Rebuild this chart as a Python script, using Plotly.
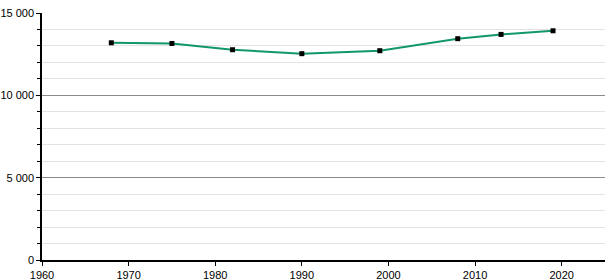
import plotly.graph_objects as go

years = [1968, 1975, 1982, 1990, 1999, 2008, 2013, 2019]
population = [13190, 13150, 12770, 12530, 12710, 13440, 13700, 13920]

fig = go.Figure()
fig.add_trace(go.Scatter(
    x=years, y=population, mode="lines+markers",
    line=dict(color="#12966b", width=2),
    marker=dict(symbol="square", size=5, color="black"),
    hoverinfo="skip",
))

fig.update_layout(
    width=615, height=280,
    margin=dict(l=42, r=10, t=13, b=20, autoexpand=False),
    paper_bgcolor="white", plot_bgcolor="white",
    showlegend=False,
    separators=", ",
    font=dict(family="Liberation Sans, Arial, sans-serif", size=11, color="black"),
)
fig.update_xaxes(
    range=[1960, 2025], dtick=10, tick0=1960,
    showgrid=False, zeroline=False, automargin=False,
    showline=True, linecolor="black", linewidth=1.5,
    ticks="outside", ticklen=4, tickcolor="black",
)
fig.update_yaxes(
    range=[0, 15000], dtick=5000, tickformat=",d", automargin=False,
    showgrid=True, gridcolor="#8a8a8a", gridwidth=1,
    zeroline=False,
    showline=True, linecolor="black", linewidth=1.5,
    ticks="outside", ticklen=4, tickcolor="black",
    minor=dict(dtick=1000, showgrid=True, gridcolor="#e3e3e3", ticks="outside", ticklen=3, tickcolor="black"),
)

fig.write_html("out.html")
